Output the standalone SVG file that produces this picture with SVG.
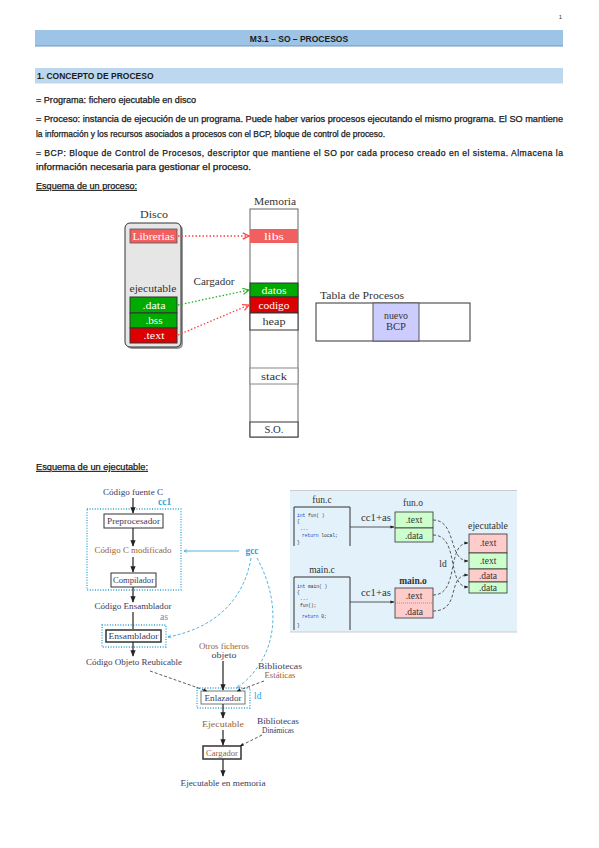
<svg xmlns="http://www.w3.org/2000/svg" width="599" height="848" viewBox="0 0 599 848">
<style>
.body{font-family:"Liberation Sans",Arial,sans-serif;font-size:8.6px;fill:#1a1a1a;stroke:#1a1a1a;stroke-width:0.25}
.hd{font-family:"Liberation Sans",Arial,sans-serif;font-size:8.5px;font-weight:bold;fill:#1a1a1a}
.sf{font-family:"Liberation Serif","Times New Roman",serif;font-size:9.5px;fill:#333}
.sfs{font-family:"Liberation Serif","Times New Roman",serif;font-size:8.3px;fill:#3b3b5c}
.org{fill:#9a6438}
.wt{fill:#fff}
.mono{font-family:"Liberation Mono",monospace;font-size:4.6px;fill:#334}
.blue{fill:#2aa0d8}
.cell{stroke:#333;stroke-width:1}
.dots{fill:none;stroke-width:1.3;stroke-dasharray:1.5 2}
.bdot{fill:none;stroke:#2aa0d8;stroke-width:1.3;stroke-dasharray:1 1.6}
.solid{fill:none;stroke:#333;stroke-width:1.3}
.dash{fill:none;stroke:#333;stroke-width:0.8;stroke-dasharray:3 2}
.bdash{fill:none;stroke:#2aa0d8;stroke-width:0.8;stroke-dasharray:3 2}
</style>
<defs>
<marker id="mr" viewBox="0 0 10 10" refX="9" refY="5" markerWidth="6" markerHeight="6" orient="auto"><path d="M1,1 L9,5 L1,9" fill="none" stroke="#ff4040" stroke-width="1.5"/></marker>
<marker id="mg" viewBox="0 0 10 10" refX="9" refY="5" markerWidth="6" markerHeight="6" orient="auto"><path d="M1,1 L9,5 L1,9" fill="none" stroke="#20b020" stroke-width="1.5"/></marker>
<marker id="mk" viewBox="0 0 10 10" refX="9" refY="5" markerWidth="5" markerHeight="5" orient="auto"><path d="M0,1 L10,5 L0,9 Z" fill="#222"/></marker>
<marker id="mb" viewBox="0 0 10 10" refX="9" refY="5" markerWidth="5" markerHeight="5" orient="auto"><path d="M1,1 L9,5 L1,9" fill="none" stroke="#2aa0d8" stroke-width="1.5"/></marker>
</defs>
<rect width="599" height="848" fill="#fff"/>

<!-- header -->
<text x="562" y="19" font-family="Liberation Sans,Arial,sans-serif" font-size="6" fill="#333" text-anchor="end">1</text>
<g id="title">
<rect x="35" y="31.5" width="528" height="15" fill="#6f97c2"/>
<rect x="35" y="30" width="528" height="15.5" fill="#9dc3e6"/>
<text x="299" y="41.5" class="hd" text-anchor="middle">M3.1 – SO – PROCESOS</text>
</g>
<g id="section">
<rect x="35" y="68" width="528" height="15.5" fill="#bdd7ee"/>
<text x="37" y="79" class="hd">1. CONCEPTO DE PROCESO</text>
</g>

<g id="paragraphs">
<text x="36" y="103" class="body" textLength="160" lengthAdjust="spacingAndGlyphs">= Programa: fichero ejecutable en disco</text>
<text x="36" y="122" class="body" textLength="527" lengthAdjust="spacingAndGlyphs">= Proceso: instancia de ejecución de un programa. Puede haber varios procesos ejecutando el mismo programa. El SO mantiene</text>
<text x="36" y="137" class="body" textLength="349" lengthAdjust="spacingAndGlyphs">la información y los recursos asociados a procesos con el BCP, bloque de control de proceso.</text>
<text x="36" y="156" class="body" textLength="527" lengthAdjust="spacing">= BCP: Bloque de Control de Procesos, descriptor que mantiene el SO por cada proceso creado en el sistema. Almacena la</text>
<text x="36" y="170" class="body" textLength="215" lengthAdjust="spacingAndGlyphs">información necesaria para gestionar el proceso.</text>
<text x="36" y="189" class="body" textLength="101" lengthAdjust="spacingAndGlyphs" text-decoration="underline">Esquema de un proceso:</text>
<text x="36" y="470" class="body" textLength="112" lengthAdjust="spacingAndGlyphs" text-decoration="underline">Esquema de un ejecutable:</text>
</g>

<!-- process diagram -->
<g id="disco">
<text x="154" y="218" class="sf" text-anchor="middle" textLength="28" lengthAdjust="spacingAndGlyphs">Disco</text>
<rect x="127" y="225" width="56" height="124" rx="5" fill="#999"/>
<rect x="125" y="223" width="56" height="124" rx="5" fill="#e6e6e6" stroke="#333" stroke-width="1"/>
<rect x="130" y="229" width="47" height="14" fill="#f06060" stroke="#555" stroke-width="0.8"/>
<text x="153.5" y="239.5" class="sf wt" text-anchor="middle" textLength="42" lengthAdjust="spacingAndGlyphs">Librerias</text>
<text x="153" y="292" class="sf" text-anchor="middle" textLength="47" lengthAdjust="spacingAndGlyphs">ejecutable</text>
<rect x="130" y="297" width="47" height="16" fill="#00aa00" class="cell"/>
<text x="154" y="308.5" class="sf wt" text-anchor="middle" textLength="23" lengthAdjust="spacingAndGlyphs">.data</text>
<rect x="130" y="313" width="47" height="15" fill="#00aa00" class="cell"/>
<text x="154" y="324" class="sf wt" text-anchor="middle" textLength="17" lengthAdjust="spacingAndGlyphs">.bss</text>
<rect x="130" y="328" width="47" height="15" fill="#dd0000" class="cell"/>
<text x="154" y="339" class="sf wt" text-anchor="middle" textLength="21" lengthAdjust="spacingAndGlyphs">.text</text>
</g>

<g id="memoria">
<text x="275" y="205" class="sf" text-anchor="middle" textLength="42" lengthAdjust="spacingAndGlyphs">Memoria</text>
<rect x="250" y="209" width="48" height="228" fill="#fff" stroke="#666" stroke-width="1"/>
<rect x="250" y="229" width="48" height="14" fill="#f06060"/>
<text x="274" y="239.5" class="sf wt" text-anchor="middle" textLength="20" lengthAdjust="spacingAndGlyphs">libs</text>
<rect x="250" y="283" width="48" height="14" fill="#00aa00" class="cell"/>
<text x="274" y="293.5" class="sf wt" text-anchor="middle" textLength="25" lengthAdjust="spacingAndGlyphs">datos</text>
<rect x="250" y="297" width="48" height="16" fill="#dd0000" class="cell"/>
<text x="274" y="308.5" class="sf wt" text-anchor="middle" textLength="31" lengthAdjust="spacingAndGlyphs">codigo</text>
<rect x="250" y="313" width="48" height="17" fill="#fff" class="cell"/>
<text x="274" y="325" class="sf" text-anchor="middle" textLength="23" lengthAdjust="spacingAndGlyphs">heap</text>
<rect x="250" y="368" width="48" height="16" fill="#fff" stroke="#888"/>
<text x="274" y="379.5" class="sf" text-anchor="middle" textLength="26" lengthAdjust="spacingAndGlyphs">stack</text>
<rect x="250" y="422" width="48" height="15" fill="#fff" class="cell"/>
<text x="274" y="433" class="sf" text-anchor="middle" textLength="19" lengthAdjust="spacingAndGlyphs">S.O.</text>
</g>

<g id="tabla">
<text x="320" y="299" class="sf" textLength="84" lengthAdjust="spacingAndGlyphs">Tabla de Procesos</text>
<rect x="316" y="303" width="154" height="38" fill="#fff" stroke="#333" stroke-width="1"/>
<rect x="373" y="303" width="46" height="38" fill="#ccccff" stroke="#555" stroke-width="1"/>
<text x="396" y="319" class="sf" text-anchor="middle" fill="#446" textLength="24" lengthAdjust="spacingAndGlyphs">nuevo</text>
<text x="396" y="330" class="sf" text-anchor="middle" fill="#446" textLength="20" lengthAdjust="spacingAndGlyphs">BCP</text>
</g>

<g id="process-connectors">
<path d="M178,236 L249,236" class="dots" stroke="#ff4040" marker-end="url(#mr)"/>
<path d="M178,305 L249,290" class="dots" stroke="#20b020" marker-end="url(#mg)"/>
<path d="M178,335 L249,305" class="dots" stroke="#ff4040" marker-end="url(#mr)"/>
<text x="214" y="285" class="sf" text-anchor="middle" textLength="41" lengthAdjust="spacingAndGlyphs">Cargador</text>
</g>

<!-- executable diagram (left) -->
<g id="exe-nodes">
<text x="133" y="495" class="sfs" text-anchor="middle" textLength="60" lengthAdjust="spacingAndGlyphs">Código fuente C</text>
<rect x="87" y="509" width="94" height="81" fill="none" class="bdot"/>
<text x="158" y="505" class="sf blue" font-weight="bold" font-size="10">cc1</text>
<rect x="104" y="514" width="59" height="14" fill="#fff" stroke="#333" stroke-width="1"/>
<text x="133.5" y="524" class="sfs" text-anchor="middle" textLength="53" lengthAdjust="spacingAndGlyphs">Preprocesador</text>
<text x="133" y="553" class="sfs org" text-anchor="middle" textLength="77" lengthAdjust="spacingAndGlyphs">Código C modificado</text>
<rect x="111" y="573" width="45" height="14" fill="#fff" stroke="#333" stroke-width="1"/>
<text x="133.5" y="583" class="sfs" text-anchor="middle" textLength="41" lengthAdjust="spacingAndGlyphs">Compilador</text>
<text x="252" y="554" class="sf blue" font-weight="bold" font-size="10" text-anchor="middle">gcc</text>
<text x="133" y="609" class="sfs" text-anchor="middle" textLength="77" lengthAdjust="spacingAndGlyphs">Código Ensamblador</text>
<text x="160" y="620" class="sf blue" font-size="6">as</text>
<rect x="102" y="625" width="64" height="22" class="bdot"/>
<rect x="106" y="630" width="55" height="12" fill="#fff" stroke="#333" stroke-width="1.5"/>
<text x="133.5" y="639" class="sfs" text-anchor="middle" textLength="50" lengthAdjust="spacingAndGlyphs">Ensamblador</text>
<text x="134" y="665" class="sfs" text-anchor="middle" textLength="96" lengthAdjust="spacingAndGlyphs">Código Objeto Reubicable</text>
<text x="224" y="649" class="sfs org" text-anchor="middle" textLength="50" lengthAdjust="spacingAndGlyphs">Otros ficheros</text>
<text x="224" y="658" class="sfs" text-anchor="middle" textLength="25" lengthAdjust="spacingAndGlyphs">objeto</text>
<text x="280" y="669" class="sfs" text-anchor="middle" textLength="44" lengthAdjust="spacingAndGlyphs">Bibliotecas</text>
<text x="280" y="678" class="sfs org" text-anchor="middle" textLength="31" lengthAdjust="spacingAndGlyphs">Estáticas</text>
<rect x="197" y="688" width="53" height="20" class="bdot"/>
<text x="254" y="699" class="sf blue" font-size="10">ld</text>
<rect x="201" y="691" width="44" height="13" fill="#fff" stroke="#777" stroke-width="1"/>
<text x="223" y="700.5" class="sfs" text-anchor="middle" textLength="37" lengthAdjust="spacingAndGlyphs">Enlazador</text>
<text x="223" y="727" class="sfs org" text-anchor="middle" textLength="42" lengthAdjust="spacingAndGlyphs">Ejecutable</text>
<text x="278" y="724" class="sfs" text-anchor="middle" textLength="42" lengthAdjust="spacingAndGlyphs">Bibliotecas</text>
<text x="278" y="733" class="sfs" text-anchor="middle" textLength="32" lengthAdjust="spacingAndGlyphs">Dinámicas</text>
<rect x="203" y="746" width="38" height="13" fill="#fff" stroke="#333" stroke-width="1.5"/>
<text x="222" y="755.5" class="sfs org" text-anchor="middle" textLength="32" lengthAdjust="spacingAndGlyphs">Cargador</text>
<text x="223" y="786" class="sfs" text-anchor="middle" textLength="85" lengthAdjust="spacingAndGlyphs">Ejecutable en memoria</text>
</g>

<g id="exe-connectors">
<path d="M133,498 L133,513" class="solid" marker-end="url(#mk)"/>
<path d="M133,528 L133,546" class="solid" marker-end="url(#mk)"/>
<path d="M133,557 L133,572" class="solid" marker-end="url(#mk)"/>
<path d="M133,587 L133,602" class="solid" marker-end="url(#mk)"/>
<path d="M133,612 L133,629" class="solid"/>
<path d="M133,642 L133,656" class="solid" marker-end="url(#mk)"/>
<path d="M223,661 L223,690" class="solid" marker-end="url(#mk)"/>
<path d="M223,704 L223,718" class="solid" marker-end="url(#mk)"/>
<path d="M223,730 L223,745" class="solid" marker-end="url(#mk)"/>
<path d="M223,759 L223,776" class="solid" marker-end="url(#mk)"/>
<path d="M150,671 L207,691" class="dash" marker-end="url(#mk)"/>
<path d="M264,681 L237,691" class="dash" marker-end="url(#mk)"/>
<path d="M262,735 L240,746" class="dash" marker-end="url(#mk)"/>
<path d="M239,551 L184,551" fill="none" stroke="#2aa0d8" stroke-width="0.8" marker-end="url(#mb)"/>
<path d="M251,558 C244,600 215,628 168,637" class="bdash" marker-end="url(#mb)"/>
<path d="M257,558 C280,600 282,655 237,688" class="bdash" marker-end="url(#mb)"/>
</g>

<!-- right panel -->
<g id="panel">
<rect x="290" y="490" width="227" height="142" fill="#e3f1fa"/>
<line x1="290" y1="490.5" x2="517" y2="490.5" stroke="#ccc"/>
<line x1="290" y1="632" x2="517" y2="632" stroke="#ccc"/>
</g>
<g id="fun-c">
<text x="322" y="503" class="sf" text-anchor="middle" font-size="8">fun.c</text>
<path d="M294,546 L294,507 L350,507 L350,546" fill="none" stroke="#333" stroke-width="1"/>
<text x="297" y="517" class="mono"><tspan fill="#2244cc">int</tspan> fun( )</text>
<text x="297" y="523" class="mono">{</text>
<text x="300" y="530" class="mono">...</text>
<text x="302" y="537" class="mono"><tspan fill="#2244cc">return</tspan>  local;</text>
<text x="297" y="544" class="mono">}</text>
</g>
<g id="main-c">
<text x="322" y="573" class="sf" text-anchor="middle" font-size="8">main.c</text>
<path d="M294,630 L294,577 L350,577 L350,630" fill="none" stroke="#333" stroke-width="1"/>
<text x="297" y="588" class="mono"><tspan fill="#2244cc">int</tspan>  main( )</text>
<text x="297" y="594" class="mono">{</text>
<text x="300" y="600" class="mono">...</text>
<text x="300" y="607" class="mono" fill="#c08020">fun();</text>
<text x="302" y="618" class="mono"><tspan fill="#2244cc">return</tspan>  0;</text>
<text x="297" y="627" class="mono">}</text>
</g>
<g id="fun-o">
<text x="413" y="506" class="sf" text-anchor="middle" font-size="7.5">fun.o</text>
<rect x="395" y="512" width="38" height="16" fill="#ccffcc" stroke="#333" stroke-width="0.8"/>
<rect x="395" y="528" width="38" height="14" fill="#ccffcc" stroke="#333" stroke-width="0.8"/>
<text x="414" y="523" class="sf" text-anchor="middle" font-size="8">.text</text>
<text x="414" y="538.5" class="sf" text-anchor="middle" font-size="8">.data</text>
</g>
<g id="main-o">
<text x="413" y="584" class="sf" text-anchor="middle" font-size="8.5" font-weight="bold">main.o</text>
<rect x="395" y="588" width="38" height="30" fill="#ffcccc" stroke="#333" stroke-width="0.8"/>
<line x1="395" y1="603" x2="433" y2="603" stroke="#666" stroke-width="0.6" stroke-dasharray="1 1"/>
<text x="414" y="599" class="sf" text-anchor="middle" font-size="8">.text</text>
<text x="414" y="614.5" class="sf" text-anchor="middle" font-size="8">.data</text>
</g>
<g id="ejecutable">
<text x="488" y="529" class="sf" text-anchor="middle" font-size="7.5" textLength="40" lengthAdjust="spacingAndGlyphs">ejecutable</text>
<rect x="469" y="534" width="38" height="19" fill="#ffcccc" stroke="#333" stroke-width="0.8"/>
<rect x="469" y="553" width="38" height="16" fill="#ccffcc" stroke="#333" stroke-width="0.8"/>
<rect x="469" y="569" width="38" height="13" fill="#ffcccc" stroke="#333" stroke-width="0.8"/>
<rect x="469" y="582" width="38" height="11" fill="#ccffcc" stroke="#333" stroke-width="0.8"/>
<text x="488" y="546" class="sf" text-anchor="middle" font-size="8">.text</text>
<text x="488" y="564" class="sf" text-anchor="middle" font-size="8">.text</text>
<text x="488" y="578.5" class="sf" text-anchor="middle" font-size="8">.data</text>
<text x="488" y="591" class="sf" text-anchor="middle" font-size="8">.data</text>
</g>
<g id="panel-connectors">
<path d="M350,527 L394,527" fill="none" stroke="#333" stroke-width="0.8" marker-end="url(#mk)"/>
<text x="376" y="521" class="sf" text-anchor="middle" font-size="7.5" textLength="30" lengthAdjust="spacingAndGlyphs">cc1+as</text>
<path d="M350,602 L394,602" fill="none" stroke="#333" stroke-width="0.8" marker-end="url(#mk)"/>
<text x="376" y="596" class="sf" text-anchor="middle" font-size="7.5" textLength="30" lengthAdjust="spacingAndGlyphs">cc1+as</text>
<text x="443" y="567" class="sf" text-anchor="middle" font-size="7.5">ld</text>
<path d="M433,520 C457,520 448,561 468,561" class="dash" marker-end="url(#mk)"/>
<path d="M433,535 C460,535 446,587 468,587" class="dash" marker-end="url(#mk)"/>
<path d="M433,595 C460,595 446,543 468,543" class="dash" marker-end="url(#mk)"/>
<path d="M433,611 C462,611 446,575 468,575" class="dash" marker-end="url(#mk)"/>
</g>
</svg>
